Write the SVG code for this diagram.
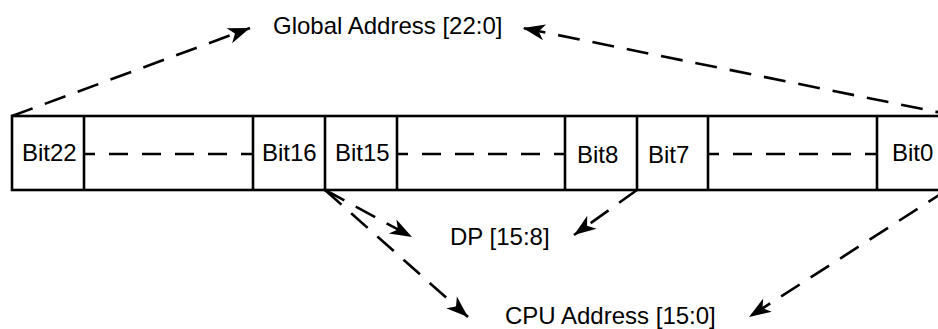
<svg xmlns="http://www.w3.org/2000/svg" width="938" height="329" viewBox="0 0 938 329">
<style>
.t{font-family:"Liberation Sans",Arial,sans-serif;font-size:24px;fill:#000}
.cell{fill:none;stroke:#000;stroke-width:2.6}
.inner{stroke:#000;stroke-width:2.6;stroke-dasharray:19 14;stroke-dashoffset:8;fill:none}
.conn{stroke:#000;stroke-width:2.6;stroke-dasharray:22 13;fill:none;marker-end:url(#ah)}
</style>
<defs>
<marker id="ah" markerUnits="userSpaceOnUse" viewBox="-24 -10 26 20" refX="0" refY="0" markerWidth="26" markerHeight="20" orient="auto">
<path d="M0,0 L-22,-8 L-16,0 L-22,8 Z" fill="#000"/>
</marker>
</defs>
<rect width="938" height="329" fill="#fff"/>
<g id="register">
<rect class="cell" x="12" y="116" width="945" height="74"/>
<line class="cell" x1="84" y1="116" x2="84" y2="190"/>
<line class="cell" x1="253" y1="116" x2="253" y2="190"/>
<line class="cell" x1="325" y1="116" x2="325" y2="190"/>
<line class="cell" x1="397" y1="116" x2="397" y2="190"/>
<line class="cell" x1="565" y1="116" x2="565" y2="190"/>
<line class="cell" x1="637" y1="116" x2="637" y2="190"/>
<line class="cell" x1="708" y1="116" x2="708" y2="190"/>
<line class="cell" x1="877" y1="116" x2="877" y2="190"/>
<line class="inner" x1="84" y1="154" x2="253" y2="154"/>
<line class="inner" x1="397" y1="154" x2="565" y2="154"/>
<line class="inner" x1="708" y1="154" x2="877" y2="154"/>
<text class="t" x="22" y="161">Bit22</text>
<text class="t" x="262" y="161">Bit16</text>
<text class="t" x="335" y="161">Bit15</text>
<text class="t" x="577" y="163">Bit8</text>
<text class="t" x="648" y="163">Bit7</text>
<text class="t" x="892" y="161">Bit0</text>
</g>
<g id="global-address">
<text class="t" x="273" y="34">Global Address [22:0]</text>
</g>
<g id="dp">
<text class="t" x="450" y="245">DP [15:8]</text>
</g>
<g id="cpu-address">
<text class="t" x="505" y="323.5">CPU Address [15:0]</text>
</g>
<g id="connectors">
<line class="conn" x1="12" y1="116" x2="250" y2="28"/>
<line class="conn" x1="957" y1="116" x2="523" y2="28"/>
<line class="conn" x1="325" y1="190" x2="412" y2="237"/>
<line class="conn" x1="325" y1="190" x2="468" y2="317"/>
<line class="conn" x1="637" y1="190" x2="574" y2="235"/>
<line class="conn" x1="947" y1="190" x2="749" y2="317"/>
</g>
</svg>
